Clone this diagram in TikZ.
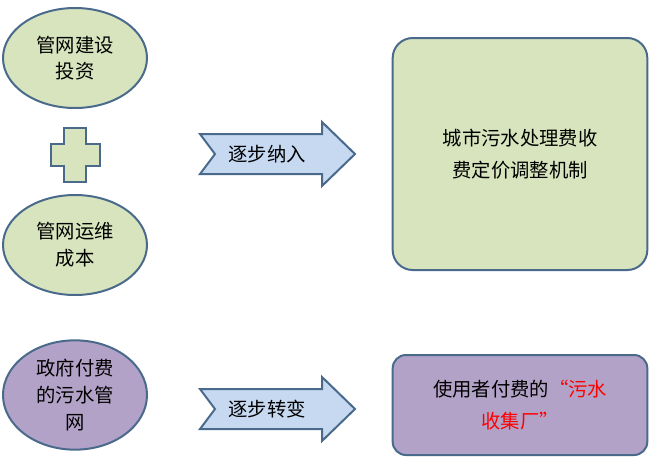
\documentclass[tikz,border=0pt]{standalone}
\usepackage{fontspec}
\setmainfont{Noto Sans CJK SC}
\usetikzlibrary{shapes.geometric}
\definecolor{gfill}{HTML}{D7E4BD}
\definecolor{pfill}{HTML}{B3A2C7}
\definecolor{edge}{HTML}{4A6A8C}
\definecolor{afill}{HTML}{C6D9F1}
\tikzset{
 ell/.style={ellipse,draw=edge,line width=1.5pt,minimum width=108pt,minimum height=75pt,align=center,font=\fontsize{14.5}{20}\selectfont,inner sep=0pt},
 arrshape/.style={draw=edge,line width=1.5pt,fill=afill},
 lbl/.style={font=\fontsize{14.5}{20}\selectfont},
 rbox/.style={draw=edge,line width=1.5pt,rounded corners=15pt,align=center,font=\fontsize{14.5}{24}\selectfont,inner sep=0pt}
}
\begin{document}
\begin{tikzpicture}[x=0.75pt,y=-0.75pt]
\useasboundingbox (0,0) rectangle (650,465);
\node[ell,fill=gfill] (e1) at (75,58) {管网建设\\投资};
\node[ell,fill=gfill] (e2) at (75,245) {管网运维\\成本};
\node[ell,fill=pfill,minimum height=82pt] (e3) at (75,395) {政府付费\\的污水管\\网};
\draw[draw=edge,line width=1.5pt,fill=gfill] (64,128) -- (86,128) -- (86,144) -- (100,144) -- (100,166) -- (86,166) -- (86,182) -- (64,182) -- (64,166) -- (51,166) -- (51,144) -- (64,144) -- cycle;
\foreach \y in {154,409}{
 \draw[arrshape] (200,\y-20) -- (322,\y-20) -- (322,\y-32) -- (355,\y) -- (322,\y+32) -- (322,\y+20) -- (200,\y+20) -- (215,\y) -- cycle;
}
\node[lbl] (a1) at (267,154) {逐步纳入};
\node[lbl] (a2) at (267,409) {逐步转变};
\node[rbox,fill=gfill,minimum width=191pt,minimum height=174pt] (r1) at (520,154) {城市污水处理费收\\费定价调整机制};
\node[rbox,fill=pfill,minimum width=191pt,minimum height=75pt,rounded corners=10pt] (r2) at (520,405) {使用者付费的\textcolor{red}{“污水}\\\textcolor{red}{收集厂”}};
\end{tikzpicture}
\end{document}
